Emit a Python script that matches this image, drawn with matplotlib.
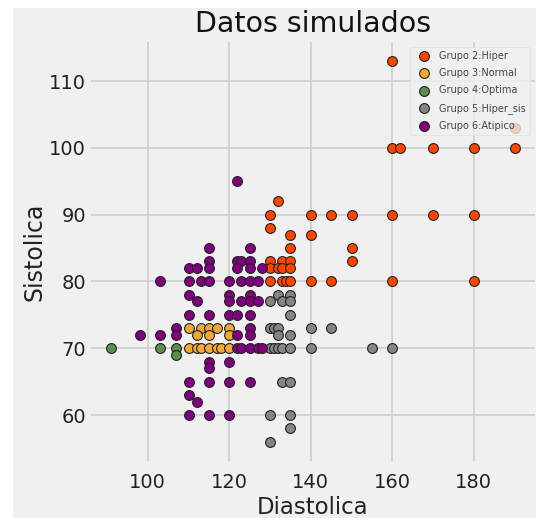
import matplotlib
matplotlib.use("Agg")
import matplotlib.pyplot as plt
from matplotlib.patches import Rectangle

plt.style.use("fivethirtyeight")
plt.rcParams['font.family'] = ['DejaVu Sans']

labels = ["Grupo 2:Hiper", "Grupo 3:Normal", "Grupo 4:Optima", "Grupo 5:Hiper_sis", "Grupo 6:Atipico"]
colors = ["#ff4500", "#f0a836", "#5d8c4c", "#858585", "#800080"]

hiper_x = [160, 190, 160, 162, 170, 180, 190, 132, 130, 140, 145, 150, 160, 170, 180, 130,
           135, 140, 135, 150, 130, 133, 135, 150, 130, 132, 133, 135, 130, 133, 134, 135,
           140, 145, 160, 180]
hiper_y = [113, 103, 100, 100, 100, 100, 100, 92, 90, 90, 90, 90, 90, 90, 90, 88,
           87, 87, 85, 85, 83, 83, 83, 83, 82, 82, 82, 82, 80, 80, 80, 80,
           80, 80, 80, 80]

normal_x = [110, 113, 115, 117, 120, 112, 115, 120, 110, 112, 113, 115, 117, 118, 120]
normal_y = [73, 73, 73, 73, 73, 72, 72, 72, 70, 70, 70, 70, 70, 70, 70]

optima_x = [91, 103, 107, 107]
optima_y = [70, 70, 70, 69]

hsis_x = [132, 135, 130, 133, 135, 135, 130, 131, 132, 140, 145, 132, 135, 130, 131, 132,
          133, 135, 140, 155, 160, 133, 135, 130, 135, 135, 130]
hsis_y = [78, 78, 77, 77, 77, 75, 73, 73, 73, 73, 73, 72, 72, 70, 70, 70,
          70, 70, 70, 70, 70, 65, 65, 60, 60, 58, 56]

atip_x = [122, 115, 125, 115, 122, 123, 125, 110, 112, 115, 122, 125, 128,
          103, 110, 113, 115, 120, 123, 125, 127, 110, 120, 125,
          112, 120, 123, 125, 127, 110, 115, 120, 122, 125, 107, 125,
          98, 103, 107, 122, 125, 122, 123, 125, 127, 128, 115, 120, 115,
          110, 115, 120, 125, 110, 112, 110, 115, 120]
atip_y = [95, 85, 85, 83, 83, 83, 83, 82, 82, 82, 82, 82, 82,
          80, 80, 80, 80, 80, 80, 80, 80, 78, 78, 78,
          77, 77, 77, 77, 77, 75, 75, 75, 75, 75, 73, 73,
          72, 72, 72, 72, 72, 70, 70, 70, 70, 70, 68, 68, 67,
          65, 65, 65, 65, 63, 62, 60, 60, 60]

groups_x = [hiper_x, normal_x, optima_x, hsis_x, atip_x]
groups_y = [hiper_y, normal_y, optima_y, hsis_y, atip_y]

fig = plt.figure(figsize=(5.36, 5.18), dpi=100, facecolor="white")
fig.patches.append(Rectangle((13 / 536, 0), 1, (518 - 8) / 518, transform=fig.transFigure,
                             facecolor="#f0f0f0", edgecolor="none", zorder=-10))
ax = fig.add_axes([90.9 / 536, 57.2 / 518, (534.7 - 90.9) / 536, (460.8 - 42.0) / 518])
ax.set_facecolor("#f0f0f0")

for gx, gy, c, lab in zip(groups_x, groups_y, colors, labels):
    ax.scatter(gx, gy, s=50, c=c, edgecolors="#222222", linewidths=0.8, label=lab, zorder=3)

ax.margins(0.05)
ax.set_xticks([100, 120, 140, 160, 180])
ax.set_yticks([60, 70, 80, 90, 100, 110])
ax.tick_params(labelsize=14, colors="#222222", length=0)
ax.tick_params(axis="x", pad=9)
ax.grid(True, color="#d0d0d0", linewidth=1.3)
ax.set_axisbelow(True)
for s in ax.spines.values():
    s.set_visible(False)

ax.set_title("Datos simulados", fontsize=20.5, color="#111111", pad=7)
ax.set_xlabel("Diastolica", fontsize=16.5, color="#222222", labelpad=3)
ax.set_ylabel("Sistolica", fontsize=17, color="#222222", labelpad=2)

leg = ax.legend(loc="upper right", fontsize=7, frameon=True, framealpha=0.8,
                borderaxespad=0.5, handletextpad=0.6, labelspacing=0.75)
leg.get_frame().set_facecolor("#f0f0f0")
leg.get_frame().set_edgecolor("#dddddd")
for t in leg.get_texts():
    t.set_color("#444444")

fig.savefig("out.png", dpi=100, facecolor=fig.get_facecolor())
